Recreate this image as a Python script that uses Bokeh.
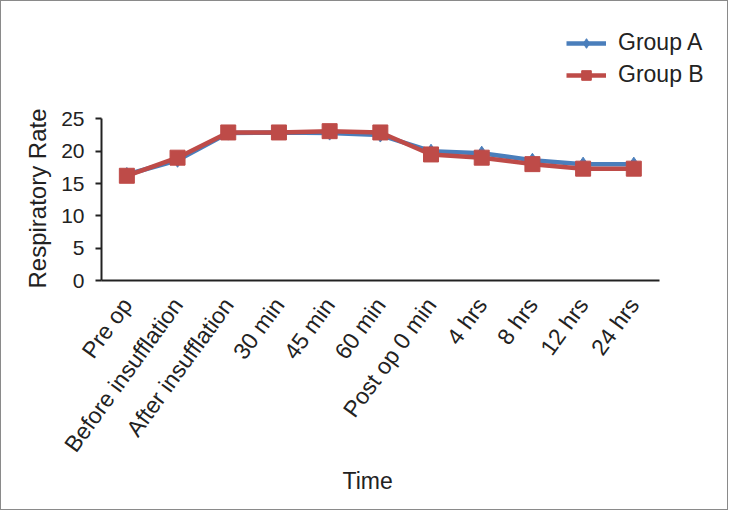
import math
from bokeh.plotting import figure
from bokeh.models import Legend, LegendItem, ColumnDataSource, FixedTicker, Title
from bokeh.embed import file_html
from bokeh.resources import INLINE

categories = ["Pre op", "Before insufflation", "After insufflation", "30 min", "45 min",
              "60 min", "Post op 0 min", "4 hrs", "8 hrs", "12 hrs", "24 hrs"]
group_a = [16.4, 18.6, 22.8, 22.9, 22.8, 22.5, 20.0, 19.7, 18.6, 18.0, 18.0]
group_b = [16.2, 19.0, 22.9, 22.9, 23.1, 22.9, 19.5, 19.0, 18.0, 17.3, 17.3]
y_ticks = [0, 5, 10, 15, 20, 25]
positions = list(range(len(categories)))

FONT = "Liberation Sans"
BLUE = "#4A7EBB"
RED = "#BE4B48"
TXT = "#222222"

p = figure(x_range=(-0.5, 11.71), y_range=(0, 40.22), width=728, height=510,
           output_backend="svg", toolbar_location=None,
           min_border_left=100, min_border_right=9, min_border_top=19, min_border_bottom=231)
p.styles = {"border": "1px solid #8a8a8a"}

src = ColumnDataSource(dict(x=positions, a=group_a, b=group_b))

la = p.line("x", "a", source=src, line_color=BLUE, line_width=4.5)
sa = p.scatter("x", "a", source=src, marker="diamond", size=14, fill_color=BLUE, line_color=BLUE)
lb = p.line("x", "b", source=src, line_color=RED, line_width=4.5)
sb = p.scatter("x", "b", source=src, marker="square", size=15, fill_color=RED, line_color=RED)

legend = Legend(items=[LegendItem(label="Group A", renderers=[la, sa]),
                       LegendItem(label="Group B", renderers=[lb, sb])],
                location=(465, 192), orientation="vertical")
legend.label_text_font = FONT
legend.label_text_font_size = "23px"
legend.label_text_color = TXT
legend.glyph_width = 40
legend.glyph_height = 24
legend.label_height = 24
legend.spacing = 5
legend.padding = 0
legend.margin = 0
legend.label_standoff = 12
legend.border_line_color = None
legend.background_fill_alpha = 0
p.add_layout(legend, "center")

p.grid.visible = False
p.outline_line_color = None

for ax in (p.xaxis[0], p.yaxis[0]):
    ax.axis_line_color = TXT
    ax.axis_line_width = 2
    ax.major_label_text_font = FONT
    ax.major_label_text_color = TXT
    ax.minor_tick_line_color = None

p.yaxis.ticker = FixedTicker(ticks=y_ticks)
p.yaxis.bounds = (0, 25)
p.yaxis.major_label_text_font_size = "21px"
p.yaxis.major_tick_in = 0
p.yaxis.major_tick_out = 6
p.yaxis.major_tick_line_color = TXT
p.yaxis.major_tick_line_width = 2
p.yaxis.major_label_standoff = 11

p.xaxis.ticker = FixedTicker(ticks=positions)
p.xaxis.major_label_overrides = {i: c for i, c in zip(positions, categories)}
p.xaxis.bounds = (-0.5, len(categories) - 0.5)
p.xaxis.major_label_text_font_size = "23px"
p.xaxis.major_tick_line_color = None
p.xaxis.major_label_orientation = math.radians(54)
p.xaxis.major_label_standoff = 14

ytitle = Title(text="Respiratory Rate", align="left", offset=-8, standoff=16,
               text_font=FONT, text_font_size="24px", text_font_style="normal", text_color=TXT)
p.add_layout(ytitle, "left")
xtitle = Title(text="Time", align="left", vertical_align="top", offset=241, standoff=0,
               text_font=FONT, text_font_size="23px", text_font_style="normal", text_color=TXT)
p.add_layout(xtitle, "below")

open("out.html", "w").write(file_html(p, INLINE))
